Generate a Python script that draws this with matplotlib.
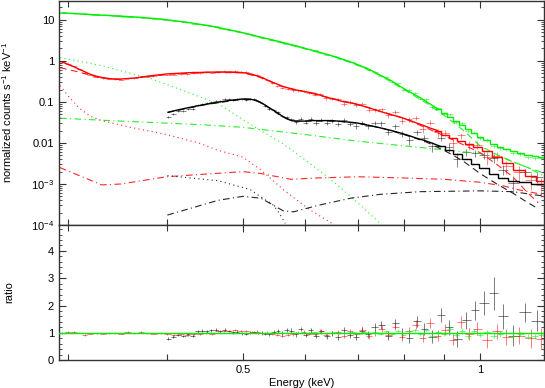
import matplotlib
matplotlib.use("Agg")
import matplotlib.pyplot as plt
import numpy as np
from matplotlib.ticker import FixedLocator, FixedFormatter, NullFormatter, MultipleLocator, LogLocator

# ---- data (energies in keV) ----
red_e = [0.295, 0.300, 0.305, 0.310, 0.315, 0.320, 0.326, 0.332, 0.338, 0.344,
         0.350, 0.357, 0.364, 0.371, 0.378, 0.385, 0.393, 0.401, 0.409, 0.417,
         0.425, 0.433, 0.441, 0.449, 0.457, 0.465, 0.473, 0.481, 0.489, 0.497,
         0.505, 0.513, 0.521, 0.529, 0.537, 0.545, 0.553, 0.561, 0.570, 0.579,
         0.588, 0.597, 0.607, 0.617, 0.627, 0.638, 0.649, 0.660, 0.672, 0.684,
         0.696, 0.709, 0.722, 0.736, 0.750, 0.765, 0.780, 0.796, 0.812, 0.829,
         0.846, 0.864, 0.883, 0.903, 0.923, 0.945, 0.968, 0.992, 1.02, 1.05,
         1.08, 1.12, 1.16, 1.195]
red_model = [0.93, 0.82, 0.72, 0.62, 0.54, 0.47, 0.42, 0.39, 0.37, 0.36,
             0.36, 0.37, 0.38, 0.40, 0.42, 0.44, 0.46, 0.48, 0.49, 0.50,
             0.51, 0.52, 0.52, 0.53, 0.53, 0.53, 0.53, 0.53, 0.52, 0.52,
             0.50, 0.47, 0.43, 0.39, 0.34, 0.30, 0.27, 0.24, 0.22, 0.20,
             0.19, 0.18, 0.17, 0.16, 0.145, 0.13, 0.12, 0.11, 0.10, 0.095,
             0.088, 0.080, 0.072, 0.064, 0.057, 0.051, 0.046, 0.041, 0.036, 0.031,
             0.027, 0.023, 0.020, 0.016, 0.013, 0.011, 0.0092, 0.0078, 0.0062, 0.0046,
             0.0032, 0.0022, 0.0016, 0.0012]
red_ratio = [1.00, 1.02, 1.03, 1.01, 0.93, 0.97, 0.98, 0.97, 0.99, 1.00,
             0.97, 1.02, 0.99, 1.03, 0.98, 0.97, 0.99, 0.95, 0.93, 0.94,
             0.93, 0.95, 0.96, 0.98, 0.97, 1.05, 1.07, 1.06, 1.09, 1.05,
             1.06, 1.02, 1.04, 0.98, 1.01, 0.96, 0.92, 0.90, 0.93, 0.95,
             1.00, 1.03, 0.97, 0.94, 1.06, 0.93, 0.99, 1.04, 0.90, 1.05,
             0.95, 1.12, 0.88, 1.00, 1.15, 0.92, 1.22, 0.85, 1.05, 1.30,
             0.82, 1.35, 0.90, 1.12, 0.75, 1.38, 0.95, 1.15, 0.72, 1.05,
             0.85, 0.90, 0.80, 0.78]
red_rerr = [0.03, 0.03, 0.03, 0.03, 0.03, 0.03, 0.03, 0.03, 0.03, 0.03,
            0.03, 0.03, 0.03, 0.03, 0.03, 0.03, 0.03, 0.03, 0.03, 0.03,
            0.035, 0.035, 0.035, 0.035, 0.035, 0.035, 0.035, 0.035, 0.035, 0.035,
            0.04, 0.04, 0.045, 0.045, 0.05, 0.05, 0.05, 0.055, 0.055, 0.06,
            0.06, 0.065, 0.065, 0.07, 0.07, 0.075, 0.08, 0.08, 0.085, 0.09,
            0.09, 0.10, 0.10, 0.11, 0.12, 0.12, 0.13, 0.14, 0.15, 0.16,
            0.17, 0.18, 0.19, 0.20, 0.21, 0.22, 0.23, 0.24, 0.26, 0.28,
            0.30, 0.32, 0.35, 0.38]

black_e = [0.402, 0.408, 0.414, 0.420, 0.426, 0.432, 0.438, 0.444, 0.450, 0.456,
           0.462, 0.468, 0.474, 0.480, 0.486, 0.492, 0.498, 0.504, 0.510, 0.516,
           0.522, 0.528, 0.534, 0.540, 0.547, 0.554, 0.561, 0.568, 0.576, 0.584,
           0.592, 0.601, 0.610, 0.619, 0.629, 0.639, 0.649, 0.660, 0.671, 0.683,
           0.695, 0.708, 0.721, 0.735, 0.749, 0.764, 0.780, 0.796, 0.813, 0.831,
           0.850, 0.870, 0.891, 0.913, 0.936, 0.960, 0.985, 1.01, 1.04, 1.07,
           1.10, 1.14, 1.18]
black_model = [0.056, 0.060, 0.064, 0.068, 0.072, 0.076, 0.080, 0.084, 0.088, 0.092,
               0.096, 0.100, 0.104, 0.108, 0.111, 0.114, 0.117, 0.118, 0.117, 0.112,
               0.104, 0.094, 0.083, 0.072, 0.062, 0.053, 0.045, 0.039, 0.035, 0.034,
               0.034, 0.034, 0.035, 0.035, 0.035, 0.035, 0.035, 0.034, 0.033, 0.032,
               0.031, 0.029, 0.027, 0.025, 0.023, 0.021, 0.019, 0.017, 0.015, 0.013,
               0.0115, 0.0098, 0.0082, 0.0067, 0.0053, 0.0041, 0.0031, 0.0024, 0.0018, 0.0014,
               0.0012, 0.0011, 0.0010]
black_ratio = [0.78, 0.86, 0.92, 0.88, 0.95, 0.90, 1.05, 1.08, 1.06, 1.09,
               1.11, 1.05, 1.12, 1.07, 1.02, 1.04, 0.98, 0.96, 1.00, 1.03,
               0.99, 1.01, 0.97, 0.95, 1.03, 1.06, 1.00, 1.10, 1.08, 0.94,
               1.14, 0.92, 1.10, 0.89, 1.06, 0.87, 0.98, 0.85, 1.10, 0.92,
               0.84, 1.08, 0.95, 1.22, 1.30, 0.90, 1.35, 0.98, 0.80, 1.42,
               1.15, 0.85, 1.65, 1.20, 0.78, 1.46, 1.83, 2.10, 2.45, 1.60,
               0.90, 1.76, 1.45]
black_rerr = [0.05, 0.05, 0.05, 0.05, 0.05, 0.05, 0.05, 0.05, 0.05, 0.05,
              0.05, 0.05, 0.05, 0.05, 0.05, 0.05, 0.05, 0.05, 0.05, 0.05,
              0.05, 0.055, 0.06, 0.06, 0.065, 0.07, 0.075, 0.08, 0.08, 0.085,
              0.085, 0.09, 0.09, 0.09, 0.095, 0.095, 0.10, 0.10, 0.11, 0.11,
              0.12, 0.12, 0.13, 0.14, 0.15, 0.16, 0.17, 0.18, 0.19, 0.20,
              0.22, 0.24, 0.26, 0.28, 0.30, 0.32, 0.35, 0.45, 0.60, 0.45,
              0.40, 0.35, 0.40]

green_e = [0.295, 0.305, 0.315, 0.325, 0.335, 0.345, 0.356, 0.367, 0.378, 0.389,
           0.400, 0.412, 0.424, 0.436, 0.448, 0.460, 0.472, 0.484, 0.496, 0.508,
           0.520, 0.532, 0.544, 0.556, 0.568, 0.580, 0.592, 0.604, 0.616, 0.628,
           0.640, 0.652, 0.664, 0.676, 0.688, 0.700, 0.712, 0.724, 0.736, 0.748,
           0.760, 0.773, 0.786, 0.799, 0.812, 0.826, 0.840, 0.854, 0.869, 0.884,
           0.899, 0.915, 0.931, 0.948, 0.965, 0.983, 1.00, 1.02, 1.04, 1.06,
           1.08, 1.10, 1.125, 1.15, 1.175, 1.195]
green_model = [14.7, 14.2, 13.7, 13.2, 12.8, 12.4, 12.0, 11.6, 11.1, 10.6,
               10.0, 9.3, 8.7, 8.0, 7.4, 6.8, 6.1, 5.5, 5.0, 4.5,
               4.0, 3.6, 3.25, 2.95, 2.65, 2.4, 2.15, 1.93, 1.75, 1.58,
               1.43, 1.28, 1.15, 1.02, 0.91, 0.80, 0.70, 0.61, 0.52, 0.44,
               0.38, 0.32, 0.26, 0.215, 0.18, 0.15, 0.125, 0.102, 0.083, 0.067,
               0.054, 0.043, 0.035, 0.028, 0.022, 0.017, 0.014, 0.0115, 0.0095, 0.0080,
               0.0070, 0.0062, 0.0056, 0.0052, 0.0048, 0.0046]
green_ratio = [1.00, 1.01, 0.99, 1.00, 1.01, 1.00, 0.99, 1.00, 1.01, 1.00,
               1.00, 0.99, 1.01, 1.00, 1.00, 1.01, 0.99, 1.00, 1.01, 1.00,
               0.99, 1.00, 1.01, 1.00, 0.99, 1.01, 1.00, 0.98, 1.02, 1.00,
               0.99, 1.02, 0.98, 1.01, 1.03, 0.97, 1.02, 0.99, 1.04, 0.96,
               1.05, 0.95, 1.08, 0.92, 1.06, 1.10, 0.94, 1.12, 0.90, 1.04,
               0.96, 1.15, 0.92, 1.08, 0.88, 1.05, 0.93, 1.02, 0.90, 0.95,
               1.00, 0.90, 0.97, 0.85, 0.88, 0.92]
green_rerr = [0.01, 0.01, 0.01, 0.01, 0.01, 0.01, 0.01, 0.01, 0.01, 0.01,
              0.01, 0.01, 0.01, 0.01, 0.01, 0.01, 0.01, 0.01, 0.01, 0.01,
              0.01, 0.01, 0.012, 0.012, 0.012, 0.014, 0.014, 0.015, 0.015, 0.016,
              0.017, 0.018, 0.02, 0.02, 0.022, 0.024, 0.026, 0.028, 0.03, 0.033,
              0.036, 0.04, 0.044, 0.048, 0.052, 0.056, 0.06, 0.065, 0.07, 0.075,
              0.08, 0.085, 0.09, 0.095, 0.10, 0.10, 0.10, 0.10, 0.10, 0.10,
              0.10, 0.10, 0.09, 0.09, 0.09, 0.09]

# model components (energy, value) for each dataset
green_dot_e = [0.293, 0.331, 0.382, 0.442, 0.465, 0.50, 0.527, 0.56, 0.578, 0.60, 0.64, 0.685, 0.747]
green_dot_v = [1.2, 0.76, 0.37, 0.13, 0.091, 0.037, 0.020, 0.010, 0.0066, 0.0038, 0.0015, 0.0005, 0.00011]
green_dd_e = [0.293, 0.35, 0.44, 0.50, 0.60, 0.70, 0.80, 0.90, 1.00, 1.08, 1.15, 1.21]
green_dd_v = [0.040, 0.034, 0.028, 0.024, 0.016, 0.011, 0.0085, 0.0068, 0.0055, 0.0040, 0.0025, 0.0015]
green_dash_e = [0.293, 0.35, 0.40, 0.45, 0.50, 0.55, 0.60, 0.65, 0.70, 0.75, 0.80, 0.85, 0.90, 0.95,
                1.00, 1.05, 1.10, 1.15, 1.21]
green_dash_v = [14.7, 12.3, 10.0, 7.2, 4.8, 3.0, 1.95, 1.3, 0.78, 0.42, 0.20, 0.10, 0.047, 0.021,
                0.0085, 0.0052, 0.0035, 0.0025, 0.0018]

red_dot_e = [0.293, 0.300, 0.310, 0.320, 0.331, 0.36, 0.40, 0.44, 0.465, 0.50, 0.527, 0.563, 0.609, 0.651]
red_dot_v = [0.25, 0.14, 0.07, 0.045, 0.035, 0.024, 0.016, 0.0099, 0.0066, 0.0045, 0.0022, 0.00072, 0.00023, 0.000105]
red_dd_e = [0.293, 0.31, 0.331, 0.35, 0.40, 0.44, 0.50, 0.527, 0.575, 0.62, 0.70, 0.80, 0.90, 1.00, 1.07, 1.12, 1.21]
red_dd_v = [0.0025, 0.0016, 0.00095, 0.0010, 0.0015, 0.0017, 0.0020, 0.0018, 0.0013, 0.0014, 0.0015, 0.0014,
            0.0013, 0.0011, 0.0009, 0.00072, 0.00054]
red_dash_e = [0.293, 0.31, 0.33, 0.35, 0.40, 0.45, 0.50, 0.53, 0.56, 0.60, 0.70, 0.80, 0.90, 1.00,
              1.05, 1.10, 1.15, 1.185]
red_dash_v = [0.68, 0.53, 0.38, 0.35, 0.47, 0.52, 0.51, 0.38, 0.24, 0.175, 0.086, 0.040, 0.015, 0.0058,
              0.0030, 0.0015, 0.0006, 0.00035]

black_dot_e = [0.401, 0.465, 0.511, 0.527, 0.545, 0.553, 0.566]
black_dot_v = [0.0016, 0.0012, 0.00073, 0.00048, 0.00032, 0.00023, 0.00011]
black_dd_e = [0.401, 0.465, 0.50, 0.527, 0.563, 0.58, 0.622, 0.685, 0.747, 0.84, 1.00, 1.10, 1.17, 1.21]
black_dd_v = [0.000175, 0.0004, 0.0005, 0.00045, 0.00022, 0.00021, 0.0003, 0.00045, 0.00056, 0.00065,
              0.00068, 0.00065, 0.00055, 0.0005]
black_dash_e = [0.401, 0.45, 0.50, 0.52, 0.54, 0.56, 0.58, 0.62, 0.66, 0.70, 0.75, 0.80, 0.85,
                0.90, 0.95, 1.00, 1.05, 1.10, 1.15, 1.185]
black_dash_v = [0.055, 0.087, 0.116, 0.110, 0.071, 0.044, 0.034, 0.034, 0.034, 0.030, 0.023, 0.016, 0.011,
                0.0066, 0.0037, 0.0018, 0.0010, 0.0006, 0.00035, 0.00025]

BLACK, RED, GREEN = "#000000", "#ff0000", "#00ee00"
STEP_FROM = 0.88  # above this energy the model histogram steps are visible


def bin_edges(centres):
    c = np.asarray(centres, dtype=float)
    mid = np.sqrt(c[:-1] * c[1:])
    return np.concatenate([[c[0] ** 2 / mid[0]], mid, [c[-1] ** 2 / mid[-1]]])


plt.rcParams["font.family"] = ["Liberation Sans", "DejaVu Sans"]
plt.rcParams["mathtext.fontset"] = "custom"
plt.rcParams["mathtext.rm"] = "Liberation Sans"
plt.rcParams["mathtext.it"] = "Liberation Sans:italic"
plt.rcParams["font.size"] = 8

fig = plt.figure(figsize=(5.45, 3.88), dpi=100)
ax1 = fig.add_axes([0.108, 0.420, 0.890, 0.578])
ax2 = fig.add_axes([0.108, 0.072, 0.890, 0.348], sharex=ax1)

datasets = [
    (black_e, black_model, black_ratio, black_rerr, BLACK),
    (red_e, red_model, red_ratio, red_rerr, RED),
    (green_e, green_model, green_ratio, green_rerr, GREEN),
]

for e, model, ratio, rerr, col in datasets:
    e = np.asarray(e)
    model = np.asarray(model)
    ratio = np.asarray(ratio)
    rerr = np.asarray(rerr)
    edges = bin_edges(e)
    xerr = [e - edges[:-1], edges[1:] - e]
    ax1.errorbar(e, model * ratio, xerr=xerr, yerr=model * rerr, fmt="none",
                 ecolor=col, elinewidth=0.6, alpha=0.55, zorder=2)
    # smooth where bins are dense, histogram steps at the high-energy end
    k = np.searchsorted(e, STEP_FROM)
    ax1.plot(e[:k + 1], model[:k + 1], color=col, lw=1.0, zorder=3)
    ax1.stairs(model[k:], edges[k:], color=col, lw=1.0, baseline=None, zorder=3)
    ax2.errorbar(e, ratio, xerr=xerr, yerr=rerr, fmt="none",
                 ecolor=col, elinewidth=0.6, alpha=0.6, zorder=2)

dotted = (0, (1, 3))
dashdot = (0, (6, 3, 1, 3))
dashed = (0, (6, 4))
components = [
    (green_dot_e, green_dot_v, dotted, GREEN), (green_dd_e, green_dd_v, dashdot, GREEN),
    (green_dash_e, green_dash_v, dashed, GREEN),
    (red_dot_e, red_dot_v, dotted, RED), (red_dd_e, red_dd_v, dashdot, RED),
    (red_dash_e, red_dash_v, dashed, RED),
    (black_dot_e, black_dot_v, dotted, BLACK), (black_dd_e, black_dd_v, dashdot, BLACK),
    (black_dash_e, black_dash_v, dashed, BLACK),
]
for ce, cv, ls, col in components:
    ax1.plot(ce, cv, ls=ls, color=col, lw=0.8, alpha=0.85, zorder=2.5)

ax2.axhline(1.0, color=GREEN, lw=1.0, zorder=5)

ax1.set_xscale("log")
ax1.set_yscale("log")
ax1.set_xlim(0.292, 1.205)
ax1.set_ylim(1e-4, 29)
ax2.set_ylim(0, 4.95)

ax1.xaxis.set_major_locator(FixedLocator([0.5, 1.0]))
ax1.xaxis.set_minor_locator(FixedLocator([0.3, 0.4, 0.6, 0.7, 0.8, 0.9]))
ax2.xaxis.set_major_formatter(FixedFormatter(["0.5", "1"]))
ax2.xaxis.set_minor_formatter(NullFormatter())
plt.setp(ax1.get_xticklabels(), visible=False)

yt = [1e-4, 1e-3, 0.01, 0.1, 1, 10]
ax1.yaxis.set_major_locator(FixedLocator(yt))
ax1.yaxis.set_major_formatter(FixedFormatter(["10$^{-4}$", "10$^{-3}$", "0.01", "0.1", "1", "10"]))
ax1.yaxis.set_minor_locator(LogLocator(base=10, subs=np.arange(2, 10), numticks=20))
ax1.yaxis.set_minor_formatter(NullFormatter())

ax2.yaxis.set_major_locator(MultipleLocator(1))
ax2.yaxis.set_minor_locator(MultipleLocator(0.2))

for ax in (ax1, ax2):
    ax.tick_params(which="both", direction="in", top=True, right=True, colors="#333333",
                   labelcolor="black", labelsize=8)
    ax.tick_params(which="major", length=5, width=0.8)
    ax.tick_params(which="minor", length=2.5, width=0.6)
    ax.tick_params(axis="x", which="minor", length=4, width=0.8)
    for s in ax.spines.values():
        s.set_color("#333333")
        s.set_linewidth(1.0)

ax1.set_ylabel("normalized counts s$^{-1}$ keV$^{-1}$", fontsize=8)
ax2.set_ylabel("ratio", fontsize=8)
ax2.set_xlabel("Energy (keV)", fontsize=8, labelpad=2)
ax1.yaxis.set_label_coords(-0.092, 0.5)
ax2.yaxis.set_label_coords(-0.092, 0.5)

fig.savefig("out.png", dpi=100)
